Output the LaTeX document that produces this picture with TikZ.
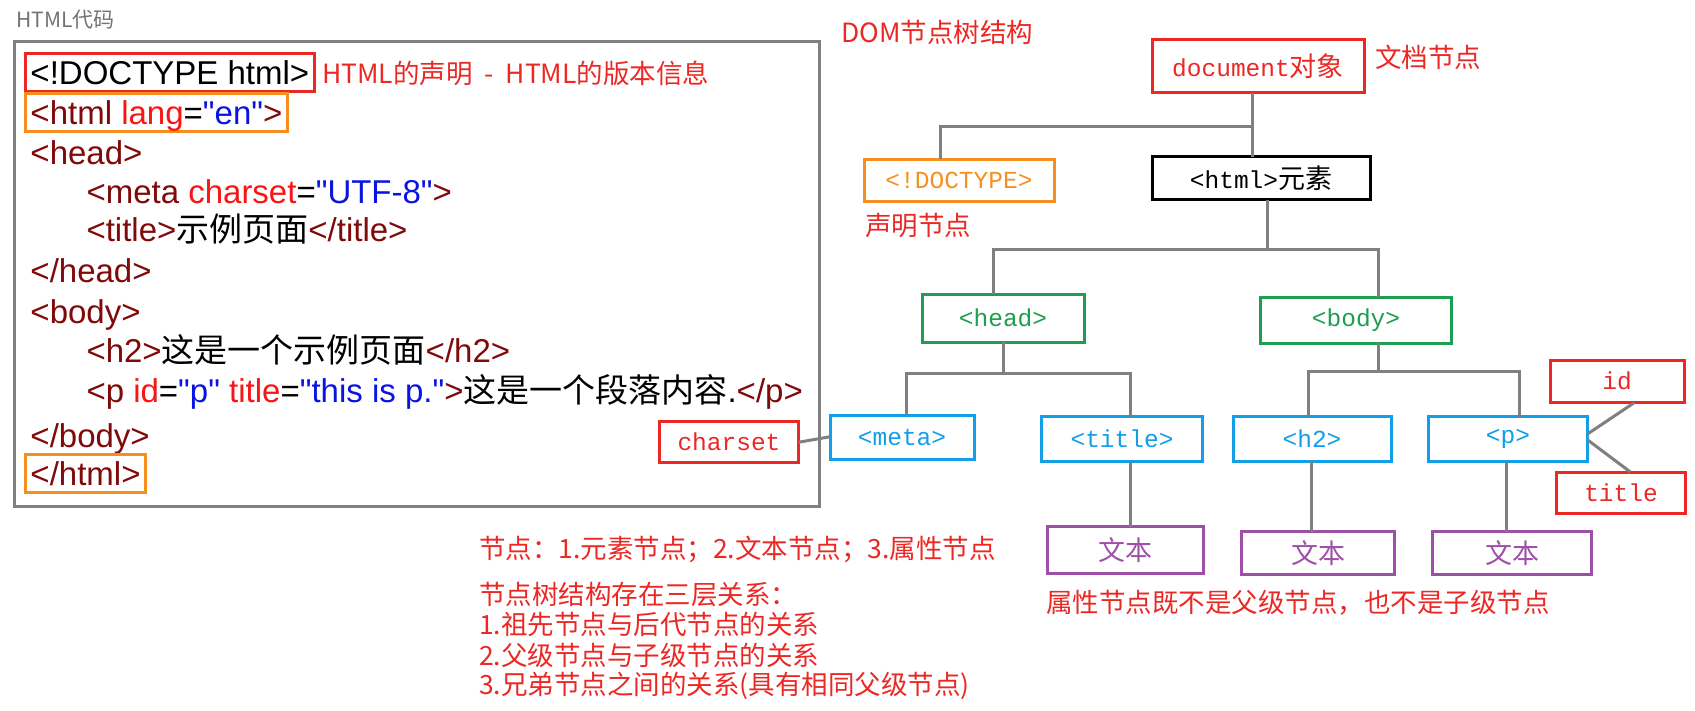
\documentclass[tikz,border=0pt]{standalone}
\usepackage{fontspec}
\setmainfont{Liberation Sans}[Ligatures=TeXOff]
\newfontfamily\cjk{Noto Sans CJK SC}
\newfontfamily\treemono{Liberation Mono}
\usepackage{xcolor}
\definecolor{notered}{RGB}{236, 40, 36}
\definecolor{declorange}{RGB}{247, 143, 30}
\definecolor{headgreen}{RGB}{30, 158, 80}
\definecolor{elemblue}{RGB}{18, 158, 232}
\definecolor{textpurple}{RGB}{158, 80, 168}
\definecolor{linkgray}{RGB}{128, 128, 128}
\definecolor{tagred}{RGB}{128, 10, 10}
\definecolor{attrred}{RGB}{250, 20, 20}
\definecolor{valblue}{RGB}{10, 20, 225}
\usetikzlibrary{positioning, calc}
\newcommand{\codetag}[1]{\textcolor{tagred}{#1}}
\newcommand{\codeattr}[1]{\textcolor{attrred}{#1}}
\newcommand{\codeval}[1]{\textcolor{valblue}{#1}}
\newcommand{\codezh}[1]{{\cjk #1}}
\newcommand{\treezh}[1]{{\fontsize{27}{30}\selectfont\cjk #1}}
\tikzset{
    treenode/.style={draw, line width=3pt, inner sep=0pt, font=\fontsize{24.5}{28}\selectfont\treemono},
    textnode/.style={treenode, draw=textpurple, text=textpurple, font=\fontsize{27}{30}\selectfont\cjk},
    link/.style={draw=linkgray, line width=3pt, line cap=rect},
    note/.style={text=notered, font=\fontsize{26.5}{30}\selectfont\cjk, anchor=west, inner sep=0pt},
    codeline/.style={anchor=base west, font=\fontsize{33}{38}\selectfont, text height=29pt, text depth=5pt, inner ysep=2pt, inner xsep=5pt, line width=3pt}
}

\begin{document}
\begin{tikzpicture}[x=1pt, y=-1pt]
    \useasboundingbox[fill=white] (0,0) rectangle (1695,710);

    % HTML code panel
    \node[anchor=west, inner sep=0pt, text=linkgray!90!black, font=\fontsize{21}{24}\selectfont\cjk] (codetitle) at (16,20) {HTML代码};
    \draw[draw=linkgray, line width=3pt] (14,41) rectangle (819,506);

    \node[codeline, draw=notered] (l1) at (24,84) {<!DOCTYPE html>};
    \node[note] (declnote) at (322,73) {HTML的声明 \ - \ HTML的版本信息};
    \node[codeline, draw=declorange] (l2) at (24,124) {\codetag{<html} \codeattr{lang}=\codeval{"en"}\codetag{>}};
    \node[codeline] (l3) at (24,164) {\codetag{<head>}};
    \node[codeline] (l4) at (80,203) {\codetag{<meta} \codeattr{charset}=\codeval{"UTF-8"}\codetag{>}};
    \node[codeline] (l5) at (80,241) {\codetag{<title>}\codezh{示例页面}\codetag{</title>}};
    \node[codeline] (l6) at (24,282) {\codetag{</head>}};
    \node[codeline] (l7) at (24,323) {\codetag{<body>}};
    \node[codeline] (l8) at (80,362) {\codetag{<h2>}\codezh{这是一个示例页面}\codetag{</h2>}};
    \node[codeline] (l9) at (80,402) {\codetag{<p} \codeattr{id}=\codeval{"p"} \codeattr{title}=\codeval{"this is p."}\codetag{>}\codezh{这是一个段落内容}.\codetag{</p>}};
    \node[codeline] (l10) at (24,447) {\codetag{</body>}};
    \node[codeline, draw=declorange] (l11) at (24,485) {\codetag{</html>}};

    % DOM tree
    \node[note] (treetitle) at (841,32) {DOM节点树结构};
    \node[treenode, draw=notered, text=notered, minimum width=212pt, minimum height=53pt] (doc) at (1258,66) {document\treezh{对象}};
    \node[note] (docnote) at (1375,57) {文档节点};
    \node[treenode, draw=declorange, text=declorange, minimum width=190pt, minimum height=42pt] (dt) at (959,180) {<!DOCTYPE>};
    \node[note] (dtnote) at (865,225) {声明节点};
    \node[treenode, draw=black, text=black, minimum width=218pt, minimum height=43pt] (html) at (1261,178) {<html>\treezh{元素}};

    \node[treenode, draw=headgreen, text=headgreen, minimum width=162pt, minimum height=48pt] (head) at (1003,318) {<head>};
    \node[treenode, draw=headgreen, text=headgreen, minimum width=191pt, minimum height=46pt] (body) at (1356,320) {<body>};

    \node[treenode, draw=elemblue, text=elemblue, minimum width=144pt, minimum height=44pt] (meta) at (902,437) {<meta>};
    \node[treenode, draw=elemblue, text=elemblue, minimum width=161pt, minimum height=45pt] (title) at (1122,439) {<title>};
    \node[treenode, draw=elemblue, text=elemblue, minimum width=158pt, minimum height=45pt] (h2) at (1312,439) {<h2>};
    \node[treenode, draw=elemblue, text=elemblue, minimum width=159pt, minimum height=45pt] (p) at (1508,439) {<p>};

    % attribute nodes
    \node[treenode, draw=notered, text=notered, minimum width=139pt, minimum height=41pt] (charset) at (729,442) {charset};
    \node[treenode, draw=notered, text=notered, minimum width=134pt, minimum height=42pt] (id) at (1617,381) {id};
    \node[treenode, draw=notered, text=notered, minimum width=129pt, minimum height=41pt] (ttl) at (1621,493) {title};

    % text nodes
    \node[textnode, minimum width=156pt, minimum height=47pt] (txt1) at (1125,550) {文本\hspace{30pt}};
    \node[textnode, minimum width=153pt, minimum height=43pt] (txt2) at (1318,553) {文本};
    \node[textnode, minimum width=159pt, minimum height=43pt] (txt3) at (1512,553) {文本};
    \node[note] (attrnote) at (1046,603) {属性节点既不是父级节点，也不是子级节点};

    % connectors
    \draw[link] ([xshift=-6pt]doc.south) -- ([xshift=-9pt]html.north);
    \coordinate (docfork) at (1252,126);
    \draw[link] (docfork) -| ([xshift=-19pt]dt.north);
    \draw[link] ([xshift=6pt]html.south) -- (1267,249);
    \draw[link] ([xshift=-10pt]head.north) |- (1378,249) -- ([xshift=22pt]body.north);
    \draw[link] (head.south) -- (1003,373);
    \draw[link] ([xshift=4pt]meta.north) |- (1130,373) -- ([xshift=8pt]title.north);
    \draw[link] ([xshift=22pt]body.south) -- (1378,371);
    \draw[link] ([xshift=-4pt]h2.north) |- (1519,371) -- ([xshift=11pt]p.north);
    \draw[link] ([xshift=8pt]title.south) -- ([xshift=5pt]txt1.north);
    \draw[link] ([xshift=-1pt]h2.south) -- ([xshift=-7pt]txt2.north);
    \draw[link] ([xshift=-2pt]p.south) -- ([xshift=-6pt]txt3.north);
    \draw[link] (charset.east) -- (meta.west);
    \draw[link] ([yshift=6pt]p.east) -- ([xshift=16pt]id.south);
    \draw[link] ([yshift=-2pt]p.east) -- ([xshift=8pt]ttl.north);

    % node kinds and relations
    \node[note] (kinds) at (479,549) {节点：1.元素节点；2.文本节点；3.属性节点};
    \node[note] (rel0) at (479,595) {节点树结构存在三层关系：};
    \node[note] (rel1) at (479,624) {1.祖先节点与后代节点的关系};
    \node[note] (rel2) at (479,655) {2.父级节点与子级节点的关系};
    \node[note] (rel3) at (479,686) {3.兄弟节点之间的关系(具有相同父级节点)};
\end{tikzpicture}
\end{document}
